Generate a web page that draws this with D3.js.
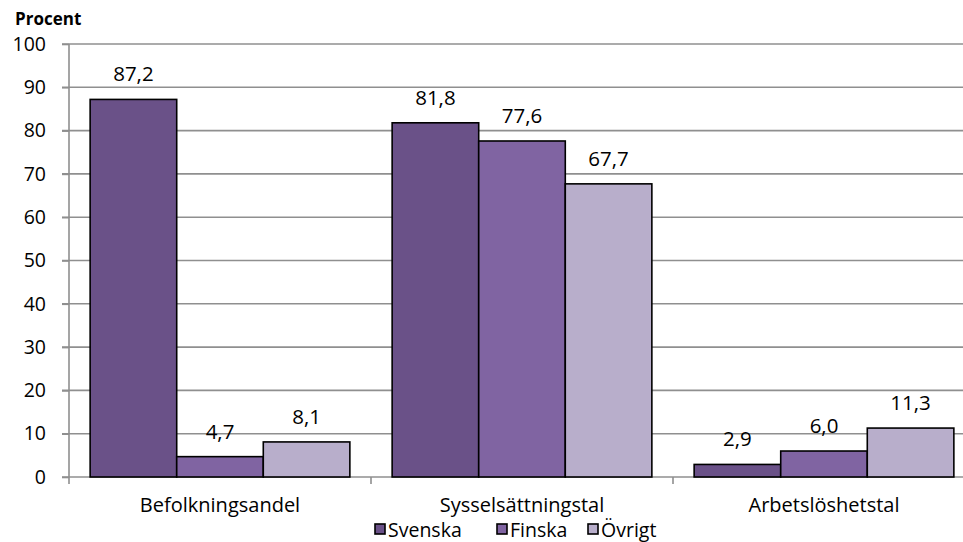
<!DOCTYPE html>
<html><head><meta charset="utf-8">
<script src="https://cdn.jsdelivr.net/npm/d3@7"></script>
<style>body{margin:0;background:#fff}svg{display:block}text{font-family:"Open Sans","Noto Sans",sans-serif;fill:#000}</style>
</head><body><svg id="c" width="963" height="542"></svg>
<script>
const categories = ["Befolkningsandel", "Sysselsättningstal", "Arbetslöshetstal"];
const seriesNames = ["Svenska", "Finska", "Övrigt"];
const svenska = [87.2, 81.8, 2.9];
const finska = [4.7, 77.6, 6.0];
const ovrigt = [8.1, 67.7, 11.3];
const yTicks = [0, 10, 20, 30, 40, 50, 60, 70, 80, 90, 100];
const colors = ["#6a5188", "#8064a2", "#b8aecb"];

const seriesValues = [svenska, finska, ovrigt];
const svg = d3.select("#c");
const pLeft = 69, pRight = 975, pTop = 44, pBottom = 477;
const gridColor = "#8f8f8f";
const y = d3.scaleLinear().domain([0, 100]).range([pBottom, pTop]);
const x0 = d3.scaleBand().domain(categories).range([pLeft, pRight]).paddingInner(0.14).paddingOuter(0.07);
const x1 = d3.scaleBand().domain(seriesNames).range([0, x0.bandwidth()]);

// gridlines
svg.append("g").selectAll("line").data(yTicks.filter(d => d > 0)).join("line")
  .attr("x1", pLeft - 7).attr("x2", 963).attr("y1", d => y(d)).attr("y2", d => y(d))
  .attr("stroke", gridColor).attr("stroke-width", 1.6);
// y axis
const ya = svg.append("g").attr("transform", `translate(${pLeft},0)`)
  .call(d3.axisLeft(y).tickValues(yTicks).tickSize(7).tickPadding(16).tickFormat(d3.format("d")));
ya.selectAll("path,line").attr("stroke", gridColor).attr("stroke-width", 1.6);
ya.select(".domain").attr("d", `M0,${pTop}V${pBottom}`);
ya.selectAll("text").attr("font-size", 19.5).attr("font-family", "Open Sans").attr("fill", "#000");
// x axis
svg.append("line").attr("x1", pLeft - 7).attr("x2", 963).attr("y1", pBottom).attr("y2", pBottom)
  .attr("stroke", gridColor).attr("stroke-width", 1.6);
const bounds = d3.range(categories.length + 1).map(i => pLeft + i * (pRight - pLeft) / categories.length);
svg.append("g").selectAll("line").data(bounds).join("line")
  .attr("x1", d => d).attr("x2", d => d).attr("y1", pBottom).attr("y2", pBottom + 7)
  .attr("stroke", gridColor).attr("stroke-width", 1.6);
svg.append("g").selectAll("text").data(categories).join("text")
  .attr("x", d => x0(d) + x0.bandwidth() / 2).attr("y", 512)
  .attr("text-anchor", "middle").attr("font-size", 20).text(d => d);

// bars
const g = svg.append("g");
categories.forEach((c, ci) => {
  seriesNames.forEach((s, si) => {
    const v = seriesValues[si][ci];
    const bx = x0(c) + x1(s);
    g.append("rect").attr("x", bx).attr("y", y(v)).attr("width", x1.bandwidth()).attr("height", y(0) - y(v))
      .attr("fill", colors[si]).attr("stroke", "#000").attr("stroke-width", 1.6);
    g.append("text").attr("x", bx + x1.bandwidth() / 2).attr("y", y(v) - 18)
      .attr("text-anchor", "middle").attr("font-size", 20.5).text(d3.format(".1f")(v).replace(".", ","));
  });
});

// y title
svg.append("text").attr("x", 15).attr("y", 25).attr("font-size", 17).attr("font-weight", "bold").text("Procent");

// legend
const legX = [375, 497, 588];
const lg = svg.append("g");
seriesNames.forEach((s, i) => {
  lg.append("rect").attr("x", legX[i]).attr("y", 524).attr("width", 10).attr("height", 10)
    .attr("fill", colors[i]).attr("stroke", "#000").attr("stroke-width", 1.6);
  lg.append("text").attr("x", legX[i] + 13).attr("y", 536.5).attr("font-size", 19.5).text(s);
});
</script></body></html>
